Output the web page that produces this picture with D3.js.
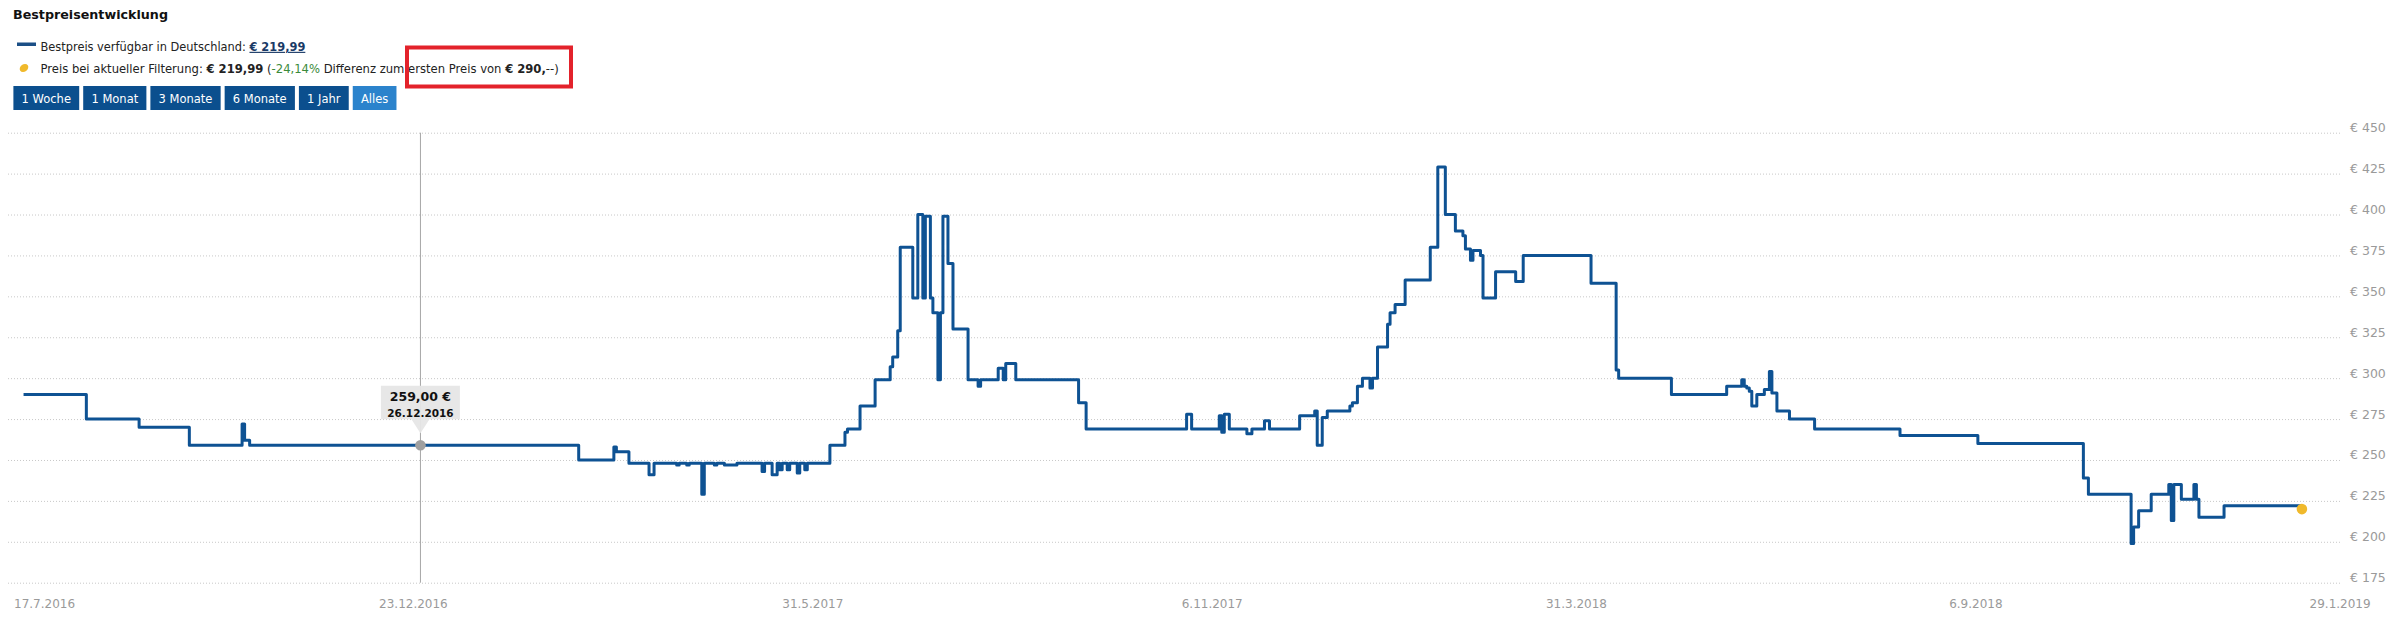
<!DOCTYPE html>
<html>
<head>
<meta charset="utf-8">
<script src="https://cdn.jsdelivr.net/npm/d3@7/dist/d3.min.js"></script>
<style>
body { margin: 0; background: #fff; }
svg { display: block; font-family: "DejaVu Sans", Verdana, sans-serif; }
</style>
</head>
<body>
<div id="chart_container"></div>
<script>
// price history: each entry is a price change (step after)
var priceDates = [
  "2016-07-21","2016-08-15","2016-09-05","2016-09-25","2016-10-16","2016-10-17","2016-10-19",
  "2017-02-27","2017-03-13","2017-03-14","2017-03-19","2017-03-27","2017-03-29","2017-04-07",
  "2017-04-08","2017-04-11","2017-04-12","2017-04-17","2017-04-18","2017-04-22","2017-04-23",
  "2017-04-26","2017-05-01","2017-05-11","2017-05-12","2017-05-15","2017-05-17","2017-05-18",
  "2017-05-19","2017-05-21","2017-05-22","2017-05-25","2017-05-26","2017-05-28","2017-05-29",
  "2017-06-07","2017-06-13","2017-06-14","2017-06-19","2017-06-25","2017-07-01","2017-07-02",
  "2017-07-04","2017-07-05","2017-07-10","2017-07-12","2017-07-14","2017-07-15","2017-07-17",
  "2017-07-18","2017-07-20","2017-07-21","2017-07-22","2017-07-24","2017-07-26","2017-08-01",
  "2017-08-05","2017-08-06","2017-08-13","2017-08-15","2017-08-16","2017-08-20","2017-09-14",
  "2017-09-17","2017-10-27","2017-10-29","2017-11-09","2017-11-10","2017-11-11","2017-11-13",
  "2017-11-20","2017-11-22","2017-11-27","2017-11-29","2017-12-11","2017-12-17","2017-12-18",
  "2017-12-20","2017-12-22","2017-12-31","2018-01-01","2018-01-03","2018-01-05","2018-01-08",
  "2018-01-09","2018-01-11","2018-01-15","2018-01-16","2018-01-18","2018-01-22","2018-02-01",
  "2018-02-04","2018-02-07","2018-02-11","2018-02-14","2018-02-15","2018-02-17","2018-02-18",
  "2018-02-21","2018-02-22","2018-02-27","2018-03-07","2018-03-10","2018-04-06","2018-04-16",
  "2018-04-17","2018-05-08","2018-05-30","2018-06-05","2018-06-06","2018-06-07","2018-06-08",
  "2018-06-09","2018-06-11","2018-06-14","2018-06-16","2018-06-17","2018-06-19","2018-06-24",
  "2018-07-04","2018-08-07","2018-09-07","2018-10-19","2018-10-21","2018-11-07","2018-11-08",
  "2018-11-10","2018-11-15","2018-11-22","2018-11-23","2018-11-24","2018-11-27","2018-12-02",
  "2018-12-03","2018-12-04","2018-12-14","2019-01-14"
];
var priceValues = [
  290, 275, 270, 259, 272, 262, 259,
  250, 258, 255, 248, 241, 248, 247,
  248, 247, 248, 229, 248, 247, 248,
  247, 248, 243, 248, 241, 248, 244,
  248, 244, 248, 242, 248, 244, 248,
  259, 267, 269, 283, 299, 307, 313,
  329, 380, 349, 400, 349, 399, 349,
  340, 299, 340, 399, 370, 330, 299,
  295, 299, 306, 299, 309, 299, 285,
  269, 278, 269, 277, 267, 278, 269,
  266, 269, 274, 269, 277, 280, 259,
  276, 280, 283, 285, 295, 300, 294,
  300, 319, 333, 340, 345, 360, 380,
  429, 400, 390, 387, 379, 372, 378,
  375, 349, 365, 359, 375, 358, 305,
  300, 290, 295, 299, 295, 294, 292,
  283, 290, 293, 304, 291, 280, 275,
  269, 265, 260, 239, 229, 199, 209,
  219, 229, 235, 213, 235, 226, 235,
  226, 215, 222, 219.99
];

var xTickDates = ["2016-07-17","2016-12-23","2017-05-31","2017-11-06","2018-03-31","2018-09-06","2019-01-29"];
var xTickLabels = ["17.7.2016","23.12.2016","31.5.2017","6.11.2017","31.3.2018","6.9.2018","29.1.2019"];
var yTickValues = [175, 200, 225, 250, 275, 300, 325, 350, 375, 400, 425, 450];
var rangeButtons = ["1 Woche", "1 Monat", "3 Monate", "6 Monate", "1 Jahr", "Alles"];
var tooltipDate = "2016-12-26";
var tooltipPrice = 259;

var parseDate = d3.timeParse("%Y-%m-%d");
var data = priceDates.map(function(d, i) { return { date: parseDate(d), price: priceValues[i] }; });

var W = 2407, H = 634;
var plotLeft = 8, plotRight = 2340;

var svg = d3.select("#chart_container").append("svg")
    .attr("width", W)
    .attr("height", H);
svg.append("rect").attr("width", W).attr("height", H).attr("fill", "#fff");

// scales
var x = d3.scaleTime()
    .domain([parseDate(xTickDates[0]), parseDate(xTickDates[xTickDates.length - 1])])
    .range([13.5, 2339.6]);
var y = d3.scaleLinear().domain([175, 450]).range([582.7, 132.7]);

// header
svg.append("text")
    .attr("x", 13).attr("y", 19.3)
    .attr("font-size", "12.7px").attr("font-weight", "bold").attr("fill", "#111")
    .text("Bestpreisentwicklung");

// legend row 1
svg.append("rect").attr("x", 17).attr("y", 42.5).attr("width", 19).attr("height", 3.5).attr("fill", "#1b4f86");
var l1 = svg.append("text").attr("x", 40.5).attr("y", 50.8).attr("font-size", "11.4px").attr("fill", "#222");
l1.append("tspan").text("Bestpreis verfügbar in Deutschland: ");
l1.append("tspan").attr("font-weight", "bold").attr("fill", "#1a3a66")
    .attr("text-decoration", "underline").text("€ 219,99");

// legend row 2
svg.append("ellipse").attr("cx", 24).attr("cy", 68).attr("rx", 4.6).attr("ry", 3.6)
    .attr("transform", "rotate(-35,24,68)").attr("fill", "#f0b92b");
var l2 = svg.append("text").attr("x", 40.5).attr("y", 72.5).attr("font-size", "11.6px").attr("fill", "#222");
l2.append("tspan").text("Preis bei aktueller Filterung: ");
l2.append("tspan").attr("font-weight", "bold").text("€ 219,99");
l2.append("tspan").text(" (");
l2.append("tspan").attr("fill", "#3a8a3a").text("-24,14%");
l2.append("tspan").text(" Differenz zum ersten Preis von ");
l2.append("tspan").attr("font-weight", "bold").text("€ 290,");
l2.append("tspan").text("--)");

// range buttons
var bx = 13.4;
rangeButtons.forEach(function(label, i) {
    var g = svg.append("g");
    var r = g.append("rect").attr("y", 86).attr("height", 24)
        .attr("fill", i === rangeButtons.length - 1 ? "#2b83cc" : "#0b4f8e");
    var t = g.append("text").attr("y", 103).attr("font-size", "11.5px").attr("fill", "#fff").text(label);
    var tw = t.node().getComputedTextLength();
    r.attr("x", bx).attr("width", tw + 16.4);
    t.attr("x", bx + 8.2);
    bx += tw + 16.4 + 4;
});

// y gridlines + labels
var yAxis = svg.append("g")
    .attr("transform", "translate(" + plotRight + ",0)")
    .call(d3.axisRight(y).tickValues(yTickValues).tickSize(-(plotRight - plotLeft)).tickPadding(10)
        .tickFormat(function(d) { return "€ " + d; }));
yAxis.select(".domain").remove();
yAxis.selectAll(".tick line").attr("stroke", "#c8c8c8").attr("stroke-dasharray", "1,2");
yAxis.selectAll(".tick text").attr("dy", "-1px").attr("fill", "#9a9a9a")
    .attr("font-size", "12.5px").attr("font-family", "DejaVu Sans, sans-serif");

// x labels
var xAxis = svg.append("g")
    .attr("transform", "translate(0,582.7)")
    .call(d3.axisBottom(x).tickValues(xTickDates.map(parseDate)).tickSize(0).tickPadding(17)
        .tickFormat(function(d, i) { return xTickLabels[i]; }));
xAxis.select(".domain").remove();
xAxis.selectAll(".tick text").attr("fill", "#9a9a9a")
    .attr("font-size", "12px").attr("font-family", "DejaVu Sans, sans-serif")
    .attr("text-anchor", function(d, i) { return i === 0 ? "start" : "middle"; });

// crosshair
var tx = x(parseDate(tooltipDate)), ty = y(tooltipPrice);
svg.append("line").attr("x1", tx).attr("x2", tx).attr("y1", y(450)).attr("y2", y(175))
    .attr("stroke", "#a6a6a6").attr("stroke-width", 1);

// price line
var valueline = d3.line()
    .x(function(d) { return x(d.date); })
    .y(function(d) { return y(d.price); })
    .curve(d3.curveStepAfter);
svg.append("path").datum(data)
    .attr("fill", "none").attr("stroke", "#0e5293").attr("stroke-width", 3)
    .attr("stroke-linejoin", "round").attr("d", valueline);

// last point
var last = data[data.length - 1];
svg.append("circle").attr("cx", x(last.date)).attr("cy", y(last.price)).attr("r", 5.3).attr("fill", "#f0b92b");

// hover point + tooltip
svg.append("circle").attr("cx", tx).attr("cy", ty).attr("r", 5.3).attr("fill", "#a0a0a0");
svg.append("path")
    .attr("d", "M" + (tx - 39.5) + "," + (ty - 59.5) + "h79v33.5h-30.5l-9,14l-9,-14h-30.5z")
    .attr("fill", "#e6e6e6").attr("fill-opacity", 0.95);
svg.append("text").attr("x", tx).attr("y", ty - 43.8).attr("text-anchor", "middle")
    .attr("font-size", "12.5px").attr("font-weight", "bold").attr("fill", "#111")
    .text(d3.format(".2f")(tooltipPrice).replace(".", ",") + " €");
svg.append("text").attr("x", tx).attr("y", ty - 28.6).attr("text-anchor", "middle")
    .attr("font-size", "10.5px").attr("font-weight", "bold").attr("fill", "#111")
    .text(d3.timeFormat("%d.%m.%Y")(parseDate(tooltipDate)));

// red highlight box
svg.append("rect").attr("x", 407).attr("y", 47.5).attr("width", 164).attr("height", 39)
    .attr("fill", "none").attr("stroke", "#e3222b").attr("stroke-width", 4);
</script>
</body>
</html>
